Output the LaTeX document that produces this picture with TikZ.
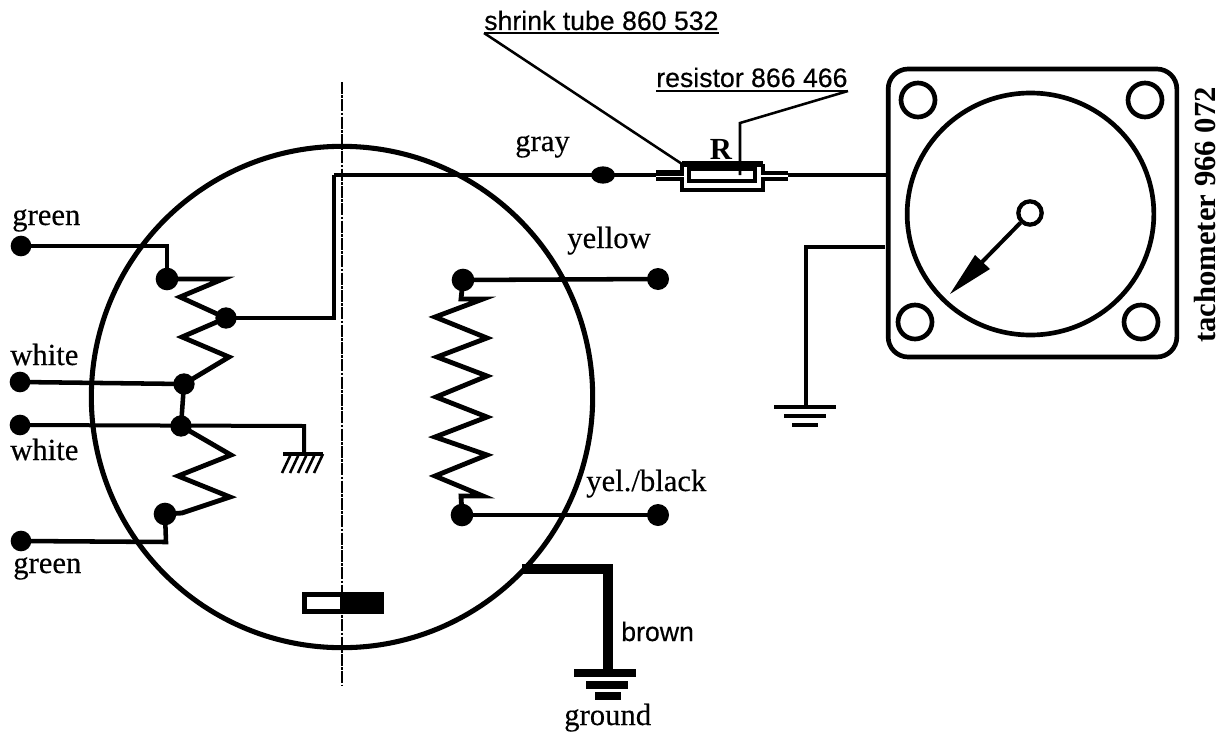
\documentclass[tikz,border=0pt]{standalone}
\usepackage{fontspec}
\usetikzlibrary{shapes.geometric}
\setmainfont{Liberation Serif}
\setsansfont{Liberation Sans}
\newfontfamily\labfont[FakeBold=0.35]{Liberation Serif}
\newfontfamily\sanslabfont[FakeBold=0.35]{Liberation Sans}
\tikzset{
  dotnode/.style={circle,fill=black,draw=none,inner sep=0pt,minimum size=#1},
  dotnode/.default=16pt,
  wire/.style={line width=3.4pt,line join=miter},
  zig/.style={line width=3.6pt,line join=miter},
  thinwire/.style={line width=2.5pt},
  rim/.style={line width=3.8pt},
  gauge/.style={draw=black,line width=3.5pt,inner sep=0pt},
  lab/.style={font=\labfont\fontsize{23}{23}\selectfont,inner sep=0pt,anchor=base west},
  sanslab/.style={font=\sanslabfont\fontsize{20}{20}\selectfont,inner sep=0pt,anchor=base west}
}
\begin{document}
\begin{tikzpicture}[x=0.75pt,y=-0.75pt]
\useasboundingbox (0,0) rectangle (1226,735);

% housing and axis
\node[circle,draw,rim,inner sep=0pt,minimum size=376pt] (housing) at (342,397) {};
\coordinate (axT) at (342,82);
\coordinate (axB) at (342,686);
\draw[line width=1.3pt,dash pattern=on 9pt off 1pt on 2pt off 1pt] (axT) -- (axB);

% left side terminals
\node[dotnode=15.5pt] (gA) at (21,246) {};
\node[dotnode=15.5pt] (wA) at (20,382) {};
\node[dotnode=15.5pt] (wB) at (20,425) {};
\node[dotnode=15.5pt] (gB) at (21,541) {};
\node[dotnode=17pt] (j1) at (167,279) {};
\node[dotnode=16pt] (j2) at (226,318) {};
\node[dotnode=16pt] (j3) at (184,384) {};
\node[dotnode=16pt] (j4) at (181,426) {};
\node[dotnode=17pt] (j5) at (165,514) {};
\coordinate (c1) at (167,246);
\coordinate (c2) at (334,318);
\coordinate (c3) at (334,175);
\coordinate (c4) at (304,426);
\coordinate (c5) at (304,453);
\coordinate (c6) at (166,542);
\draw[wire] (gA.center) -- (c1) -- (j1.center);
\draw[wire] (gB.center) -- (c6) -- (j5.center);
\draw[wire] (wA.center) -- (j3.center) -- (j4.center);
\draw[line width=3pt,line join=miter] (wB.center) -- (c4) -- (c5);
\draw[wire] (j2.center) -- (c2) -- (c3);
\draw[zig] (j1.center) -- (223,279) -- (180,297) -- (226,318) -- (182,337) -- (229,357) -- (j3.center);
\draw[zig] (j4.center) -- (231,455) -- (178,476) -- (230,497) -- (182,513) -- (j5.center);

% hatched earth
\coordinate (hL) at (283,454);
\coordinate (hR) at (323,454);
\draw[line width=3.2pt] (hL) -- (hR);
\foreach \xx in {291,299,307,315,323} \draw[line width=1.9pt] (\xx,454) -- (\xx-9,473);

% right coil
\node[dotnode=17pt] (yA) at (463,280) {};
\node[dotnode=16.5pt] (yB) at (658,279) {};
\node[dotnode=17pt] (ybA) at (462,515) {};
\node[dotnode=16.5pt] (ybB) at (658,515) {};
\draw[wire] (yA.center) -- (yB.center);
\draw[wire] (ybA.center) -- (ybB.center);
\draw[zig] (yA.center) -- (461,299) -- (483,299) -- (435,317) -- (487,338) -- (437,357) -- (487,376) -- (436,397) -- (487,417) -- (435,437) -- (487,455) -- (435,476) -- (483,496) -- (461,496) -- (ybA.center);

% switch
\node[draw=black,fill=white,line width=3.5pt,minimum width=58pt,minimum height=13pt,inner sep=0pt] (swbox) at (343,603) {};
\node[fill=black,minimum width=33pt,minimum height=16.5pt,inner sep=0pt] (swblack) at (362,603) {};

% brown lead to ground
\coordinate (bA) at (522,569);
\coordinate (bC) at (608,569);
\coordinate (bD) at (608,673);
\draw[line width=7.5pt,line join=miter] (bA) -- (bC) -- (bD);
\coordinate (e1a) at (574,673);\coordinate (e1b) at (636,673);
\coordinate (e2a) at (586,685);\coordinate (e2b) at (628,685);
\coordinate (e3a) at (595,696);\coordinate (e3b) at (621,696);
\draw[line width=5.5pt] (e1a) -- (e1b);
\draw[line width=5.5pt] (e2a) -- (e2b);
\draw[line width=5.5pt] (e3a) -- (e3b);

% gray lead and resistor
\node[ellipse,fill=black,inner sep=0pt,minimum width=18pt,minimum height=13pt] (grayDot) at (603,175) {};
\coordinate (st1) at (656,175);
\coordinate (st2) at (788,175);
\draw[thinwire] (c3) -- (st1);
\coordinate (tube1) at (682,164);
\coordinate (tube2) at (763,164);
\coordinate (tube3) at (763,190);
\coordinate (tube4) at (682,190);
\draw[line width=2.5pt] (tube1) -- (682,172);
\draw[line width=2.5pt] (682,181) -- (tube4) -- (tube3) -- (763,181);
\draw[line width=2.5pt] (763,172) -- (tube2);
\draw[line width=5pt] (tube1) -- (tube2);
\node[draw=black,fill=white,line width=3.2pt,minimum width=49pt,minimum height=9.5pt,inner sep=0pt] (res) at (722,175) {};
\draw[line width=4pt] (656,173) -- (684,173);
\draw[line width=2.8pt] (656,179) -- (684,179);
\draw[line width=3.5pt] (761,173) -- (788,173);
\draw[line width=2.4pt] (761,179) -- (788,179);

% tachometer
\node[gauge,rounded corners=15pt,minimum width=216.5pt,minimum height=216pt] (tacho) at (1032.5,213) {};
\draw[thinwire] (st2) -- (tacho.west |- st2);
\node[gauge,ellipse,minimum width=185pt,minimum height=181.5pt] (dial) at (1030.5,214) {};
\node[gauge,circle,minimum size=25.5pt] (h1) at (918,100) {};
\node[gauge,circle,minimum size=25.5pt] (h2) at (1145,100) {};
\node[gauge,circle,minimum size=25.5pt] (h3) at (915,322) {};
\node[gauge,circle,minimum size=25.5pt] (h4) at (1141,322) {};
\node[gauge,circle,fill=white,line width=3.2pt,minimum size=17.5pt] (hub) at (1030,213) {};
\coordinate (tip) at (950,294);
\coordinate (nk) at (982,262);
\draw[line width=3pt] (hub) -- (nk);
\fill (tip) -- (975,255) -- (990,269) -- cycle;

\coordinate (tg1) at (885,247);
\coordinate (tg2) at (806,247);
\coordinate (tg3) at (806,407);
\draw[line width=3.4pt,line join=miter] (tg1) -- (tg2) -- (tg3);
\coordinate (f1a) at (774,407);\coordinate (f1b) at (836,407);
\coordinate (f2a) at (784,416);\coordinate (f2b) at (826,416);
\coordinate (f3a) at (792,425);\coordinate (f3b) at (818,425);
\draw[line width=3.2pt] (f1a) -- (f1b);
\draw[line width=3.2pt] (f2a) -- (f2b);
\draw[line width=3.2pt] (f3a) -- (f3b);

% labels
\node[lab] (tGreenA) at (12,225) {green};
\node[lab] (tWhiteA) at (10,365) {white};
\node[lab] (tWhiteB) at (10,460) {white};
\node[lab] (tGreenB) at (13,573) {green};
\node[lab] (tGray) at (515,151) {gray};
\node[lab] (tYellow) at (567,248) {yellow};
\node[lab] (tYB) at (586,491) {yel./black};
\node[lab] (tGround) at (564,725) {ground};
\node[sanslab] (tBrown) at (621,641) {brown};
\node[sanslab] (tShrink) at (484,30) {shrink tube 860 532};
\node[sanslab] (tRes) at (656,87) {resistor 866 466};
\node[inner sep=0pt,anchor=base,font=\bfseries\fontsize{23}{23}\selectfont] (tR) at (721,159) {R};
\node[inner sep=0pt,anchor=base west,font=\bfseries\fontsize{23}{23}\selectfont,rotate=90] (tTach) at (1215,343) {tachometer 966 072};

% label underlines and leaders
\coordinate (u1a) at (484,33);\coordinate (u1b) at (719,33);
\coordinate (u2a) at (656,91);\coordinate (u2b) at (848,91);
\coordinate (l2) at (740,123);
\coordinate (l3) at (740,175);
\draw[line width=2.2pt] (u1a) -- (u1b);
\draw[line width=2.2pt] (u2a) -- (u2b);
\draw[line width=1.9pt] (u1a) -- (tube1);
\draw[line width=1.9pt] (u2b) -- (l2) -- (l3);
\end{tikzpicture}
\end{document}
